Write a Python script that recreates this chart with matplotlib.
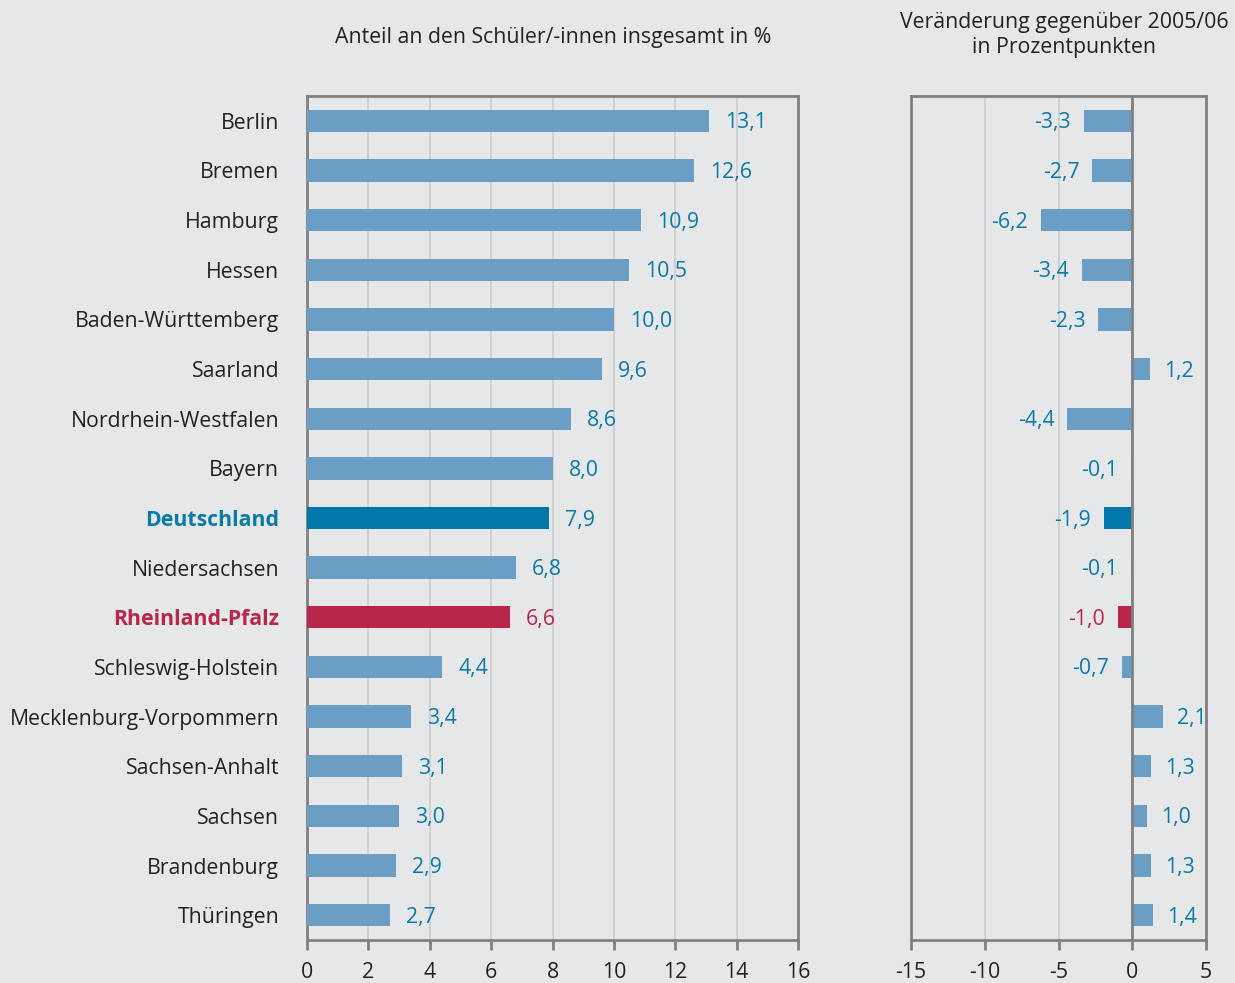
import matplotlib.pyplot as plt

plt.rcParams['font.family'] = ['Open Sans', 'DejaVu Sans']
plt.rcParams['axes.unicode_minus'] = False

laender = ['Berlin', 'Bremen', 'Hamburg', 'Hessen', 'Baden-Württemberg', 'Saarland',
           'Nordrhein-Westfalen', 'Bayern', 'Deutschland', 'Niedersachsen', 'Rheinland-Pfalz',
           'Schleswig-Holstein', 'Mecklenburg-Vorpommern', 'Sachsen-Anhalt', 'Sachsen',
           'Brandenburg', 'Thüringen']
anteil = [13.1, 12.6, 10.9, 10.5, 10.0, 9.6, 8.6, 8.0, 7.9, 6.8, 6.6, 4.4, 3.4, 3.1, 3.0, 2.9, 2.7]
veraenderung = [-3.3, -2.7, -6.2, -3.4, -2.3, 1.2, -4.4, -0.1, -1.9, -0.1, -1.0, -0.7, 2.1, 1.3, 1.0, 1.3, 1.4]

BG = '#e6e7e9'
BAR = '#6a9ec5'
DE = '#0077a8'
RP = '#b8264a'
TXT = '#0a7aa8'
SPINE = '#808080'
GRID = '#cbcccf'


def farbe(name):
    if name == 'Deutschland':
        return DE
    if name == 'Rheinland-Pfalz':
        return RP
    return BAR


def textfarbe(name):
    if name == 'Rheinland-Pfalz':
        return RP
    return TXT


fig = plt.figure(figsize=(12.35, 9.83), dpi=100, facecolor=BG)
ax1 = fig.add_axes([307 / 1235, 1 - 940 / 983, 491 / 1235, 844 / 983])
ax2 = fig.add_axes([911 / 1235, 1 - 940 / 983, 295 / 1235, 844 / 983])

y = list(range(len(laender)))
cols = [farbe(n) for n in laender]

for ax in (ax1, ax2):
    ax.set_facecolor(BG)
    for s in ax.spines.values():
        s.set_color(SPINE)
        s.set_linewidth(2)
    ax.set_ylim(len(laender) - 0.5, -0.5)
    ax.tick_params(axis='x', direction='out', length=7, width=2, color=SPINE,
                   labelsize=15.3, labelcolor='#222222', pad=9)
    ax.tick_params(axis='y', length=0)
    ax.grid(axis='x', color=GRID, linewidth=1.2)
    ax.set_axisbelow(True)

# linkes Panel
ax1.barh(y, anteil, height=0.45, color=cols, zorder=3)
ax1.set_xlim(0, 16)
ax1.set_xticks(range(0, 17, 2))
ax1.set_yticks(y)
ax1.set_yticklabels(laender, fontsize=15.3)
ax1.tick_params(axis='y', pad=20)
for lbl, name in zip(ax1.get_yticklabels(), laender):
    if name == 'Deutschland':
        lbl.set_color(TXT)
        lbl.set_fontweight('bold')
    elif name == 'Rheinland-Pfalz':
        lbl.set_color(RP)
        lbl.set_fontweight('bold')
    else:
        lbl.set_color('#222222')
for yi, v, name in zip(y, anteil, laender):
    ax1.annotate(f'{v:.1f}'.replace('.', ','), (v, yi), xytext=(16, -2),
                 textcoords='offset pixels', ha='left', va='center',
                 fontsize=15.3, color=textfarbe(name))

# rechtes Panel
ax2.barh(y, veraenderung, height=0.45, color=cols, zorder=3)
ax2.axvline(0, color=SPINE, linewidth=2, zorder=4)
ax2.set_xlim(-15, 5)
ax2.set_xticks(range(-15, 6, 5))
ax2.set_yticks([])
for yi, v, name in zip(y, veraenderung, laender):
    s = f'{v:.1f}'.replace('.', ',')
    if v < 0:
        ax2.annotate(s, (v, yi), xytext=(-13, -2), textcoords='offset pixels',
                     ha='right', va='center', fontsize=15.3, color=textfarbe(name))
    else:
        ax2.annotate(s, (v, yi), xytext=(14, -2), textcoords='offset pixels',
                     ha='left', va='center', fontsize=15.3, color=textfarbe(name),
                     annotation_clip=False)

fig.text(553 / 1235, 1 - 37 / 983, 'Anteil an den Schüler/-innen insgesamt in %',
         ha='center', va='center', fontsize=15.3, color='#222222')
fig.text(1064 / 1235, 1 - 35 / 983, 'Veränderung gegenüber 2005/06\nin Prozentpunkten',
         ha='center', va='center', fontsize=15.3, color='#222222', linespacing=1.3)

fig.savefig('out.png', dpi=100, facecolor=BG)
